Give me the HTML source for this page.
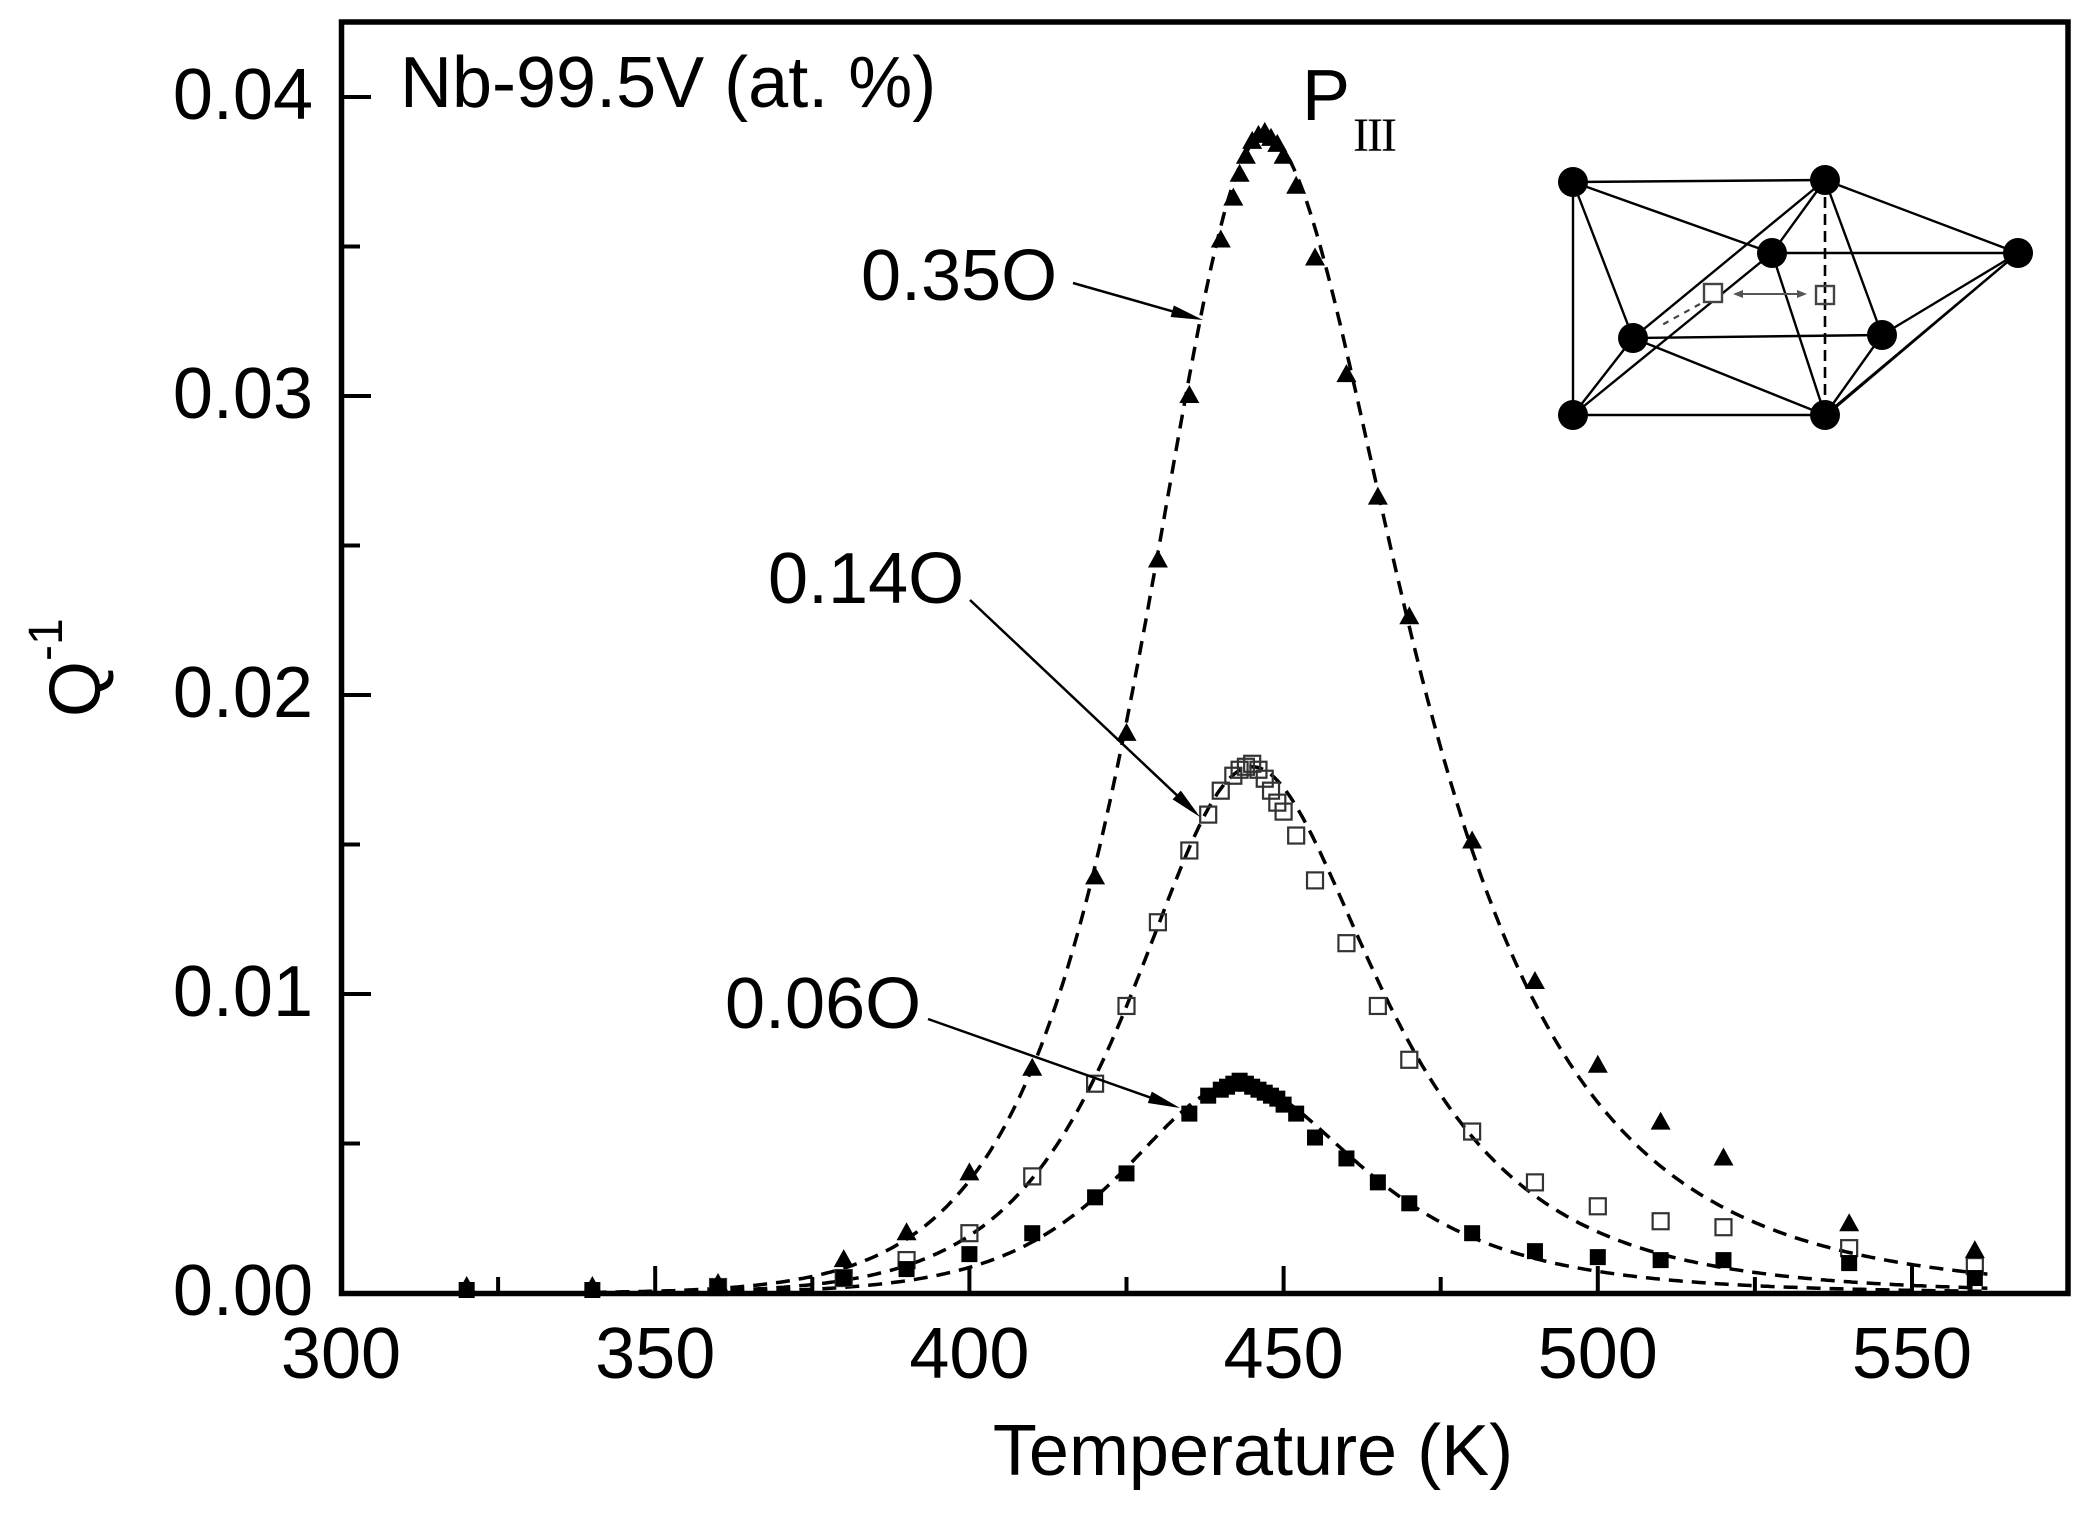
<!DOCTYPE html>
<html>
<head>
<meta charset="utf-8">
<style>
html,body{margin:0;padding:0;background:#fff;}
svg{display:block;}
text{font-family:"Liberation Sans",Arial,sans-serif;fill:#000;}
</style>
</head>
<body>
<svg id="chart" xmlns="http://www.w3.org/2000/svg" width="2089" height="1513" viewBox="0 0 2089 1513">
<rect x="0" y="0" width="2089" height="1513" fill="#fff"/>
<defs>
<clipPath id="plot"><rect x="344" y="25" width="1721" height="1267"/></clipPath>
</defs>
<g id="curves" clip-path="url(#plot)"></g>
<g id="markers"></g>

<!-- frame -->
<rect x="341.5" y="22" width="1726.5" height="1271.5" fill="none" stroke="#000" stroke-width="5.5"/>
<g id="ticks" stroke="#000" stroke-width="4"></g>

<!-- tick labels -->
<g font-size="72">
<text x="313" y="1315" text-anchor="end">0.00</text>
<text x="313" y="1016" text-anchor="end">0.01</text>
<text x="313" y="717" text-anchor="end">0.02</text>
<text x="313" y="418" text-anchor="end">0.03</text>
<text x="313" y="119" text-anchor="end">0.04</text>
<text x="341" y="1378" text-anchor="middle">300</text>
<text x="655.2" y="1378" text-anchor="middle">350</text>
<text x="969.4" y="1378" text-anchor="middle">400</text>
<text x="1283.6" y="1378" text-anchor="middle">450</text>
<text x="1597.8" y="1378" text-anchor="middle">500</text>
<text x="1912" y="1378" text-anchor="middle">550</text>
<text x="1253" y="1475" text-anchor="middle">Temperature (K)</text>
<text transform="translate(100,717) rotate(-90)">Q<tspan dy="-38" font-size="48">-1</tspan></text>
<text x="400" y="107">Nb-99.5V (at. %)</text>
<text x="1302" y="120">P</text>
<text x="861" y="300">0.35O</text>
<text x="768" y="603">0.14O</text>
<text x="725" y="1028">0.06O</text>
</g>
<text x="1353" y="151" font-size="48" style="font-family:'Liberation Serif','Times New Roman',serif;" letter-spacing="-2">III</text>

<!-- annotation arrows -->
<g id="arrows" stroke="#000" stroke-width="2.5" fill="#000"></g>

<!-- inset -->
<g id="inset"></g>
</svg>
<script>
(function(){
var NS="http://www.w3.org/2000/svg";
function el(tag,attrs,parent){var e=document.createElementNS(NS,tag);for(var k in attrs)e.setAttribute(k,attrs[k]);parent.appendChild(e);return e;}
function X(T){return 341+(T-300)*6.284;}
function Y(Q){return 1293-Q*29900;}
function debye(T,Qm,Tp,aL,aR){var a=T<Tp?aL:aR;return Qm/Math.cosh(a*(1/T-1/Tp));}

// ticks
var tg=document.getElementById("ticks");
for(var T=300;T<=575;T+=25){
  var major=(T%50===0);
  var len=major?25:14;
  if(T===300||T===575) continue;
  el("line",{x1:X(T),y1:1291,x2:X(T),y2:1291-len},tg);
}
for(var i=1;i<=8;i++){
  var q=i*0.005, major=(i%2===0), len=major?27:16;
  el("line",{x1:344,y1:Y(q),x2:344+len,y2:Y(q)},tg);
}

// curves
var cg=document.getElementById("curves");
var specs=[[0.0387,447,11500,10500],[0.0176,445,11500,11500],[0.0070,443,11500,11500]];
specs.forEach(function(s){
  var d="";
  for(var T=340;T<=562;T+=0.5){
    var q=debye(T,s[0],s[1],s[2],s[3]);
    d+=(d?"L":"M")+X(T).toFixed(1)+","+Y(q).toFixed(1);
  }
  el("path",{d:d,fill:"none",stroke:"#000","stroke-width":3.5,"stroke-dasharray":"14 9"},cg);
});

// data
var tri=[[320,.0002],[340,.0002],[360,.0003],[380,.0011],[390,.0020],[400,.0040],[410,.0075],[420,.0139],[425,.0187],[430,.0245],[435,.0300],[440,.0352],[442,.0366],[443,.0374],[444,.0380],[445,.0385],[446,.0387],[447,.0388],[448,.0386],[449,.0384],[450,.0380],[452,.0370],[455,.0346],[460,.0307],[465,.0266],[470,.0226],[480,.0151],[490,.0104],[500,.0076],[510,.0057],[520,.0045],[540,.0023],[560,.0014]];
var osq=[[360,.0002],[380,.0005],[390,.0011],[400,.0020],[410,.0039],[420,.0070],[425,.0096],[430,.0124],[435,.0148],[438,.0160],[440,.0168],[442,.0173],[443,.0175],[444,.0176],[445,.0177],[446,.0175],[447,.0172],[448,.0168],[449,.0164],[450,.0161],[452,.0153],[455,.0138],[460,.0117],[465,.0096],[470,.0078],[480,.0054],[490,.0037],[500,.0029],[510,.0024],[520,.0022],[540,.0015],[560,.0009]];
var fsq=[[320,.0001],[340,.0001],[360,.0002],[380,.0005],[390,.0008],[400,.0013],[410,.0020],[420,.0032],[425,.0040],[435,.0060],[438,.0066],[440,.0068],[441,.0069],[442,.0070],[443,.0071],[444,.0070],[445,.0069],[446,.0068],[447,.0067],[448,.0066],[449,.0065],[450,.0063],[452,.0060],[455,.0052],[460,.0045],[465,.0037],[470,.0030],[480,.0020],[490,.0014],[500,.0012],[510,.0011],[520,.0011],[540,.0010],[560,.0005]];
var mg=document.getElementById("markers");
osq.forEach(function(p){var x=X(p[0]),y=Y(p[1]);el("rect",{x:x-8,y:y-8,width:16,height:16,fill:"none",stroke:"#333","stroke-width":2.2},mg);});
fsq.forEach(function(p){var x=X(p[0]),y=Y(p[1]);el("rect",{x:x-8,y:y-8,width:16,height:16,fill:"#000"},mg);});
tri.forEach(function(p){var x=X(p[0]),y=Y(p[1]);el("polygon",{points:x+","+(y-11)+" "+(x-10)+","+(y+7)+" "+(x+10)+","+(y+7),fill:"#000"},mg);});

// arrows
var ag=document.getElementById("arrows");
function arrow(x1,y1,x2,y2,g,len,hw,col){
  var dx=x2-x1,dy=y2-y1,L=Math.sqrt(dx*dx+dy*dy),ux=dx/L,uy=dy/L;
  var bx=x2-ux*len,by=y2-uy*len;
  el("line",{x1:x1,y1:y1,x2:bx+ux*2,y2:by+uy*2,stroke:col||"#000"},g);
  el("polygon",{points:x2+","+y2+" "+(bx-uy*hw)+","+(by+ux*hw)+" "+(bx+uy*hw)+","+(by-ux*hw),fill:col||"#000",stroke:"none"},g);
}
arrow(1073,283,1203,320,ag,32,6);
arrow(970,600,1200,817,ag,32,6);
arrow(928,1019,1180,1108,ag,32,6);

// inset
var ig=document.getElementById("inset");
var P={A:[1573,182],B:[1825,180],C:[1772,253],D:[2018,253],E:[1633,338],F:[1882,335],G:[1573,415],H:[1825,415]};
var lines=["AB","AG","GH","AC","AE","BD","BC","BE","BF","CD","CH","CG","EF","EH","EG","FH","FD","DH"];
lines.forEach(function(s){var a=P[s[0]],b=P[s[1]];el("line",{x1:a[0],y1:a[1],x2:b[0],y2:b[1],stroke:"#000","stroke-width":2.4},ig);});
el("line",{x1:2012,y1:258,x2:1822,y2:419,stroke:"#000","stroke-width":2.2},ig);
el("line",{x1:1825,y1:180,x2:1825,y2:415,stroke:"#000","stroke-width":2.6,"stroke-dasharray":"11 6"},ig);
el("line",{x1:1700,y1:304,x2:1660,y2:326,stroke:"#444","stroke-width":2.2,"stroke-dasharray":"6 6"},ig);
el("rect",{x:1704,y:284,width:18,height:18,fill:"#fff",stroke:"#444","stroke-width":2.4},ig);
el("rect",{x:1816,y:286,width:18,height:18,fill:"none",stroke:"#444","stroke-width":2.4},ig);
var gg=el("g",{stroke:"#666","stroke-width":2},ig);
arrow(1780,294,1733,294,gg,10,4,"#555");
arrow(1760,294,1807,294,gg,10,4,"#555");
for(var k in P){el("circle",{cx:P[k][0],cy:P[k][1],r:15,fill:"#000"},ig);}
})();
</script>
</body>
</html>
